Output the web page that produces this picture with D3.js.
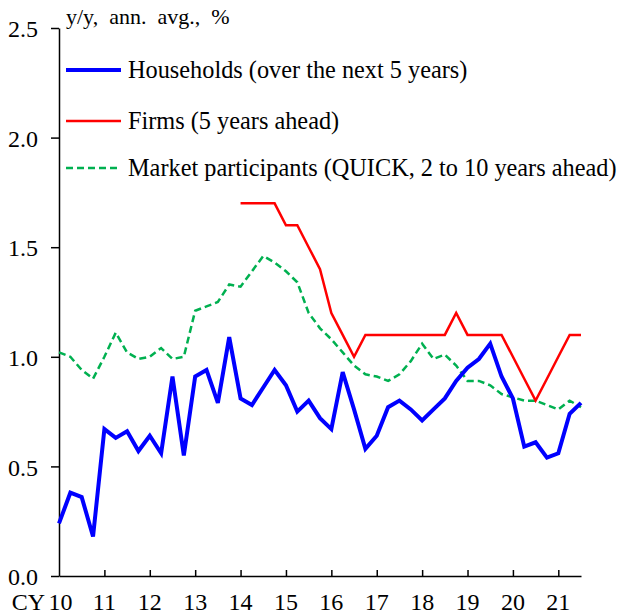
<!DOCTYPE html>
<html><head><meta charset="utf-8">
<script src="https://cdn.jsdelivr.net/npm/d3@7"></script>
<style>html,body{margin:0;padding:0;background:#fff;}</style></head>
<body>
<svg id="c" width="618" height="616"></svg>
<script>
// quarterly observations starting 2010 Q1
const startYear = 2010;
const households = [0.24,0.38,0.36,0.18,0.67,0.63,0.66,0.57,0.64,0.56,0.91,0.55,0.91,0.94,0.79,1.09,
  0.81,0.78,0.86,0.94,0.87,0.75,0.80,0.72,0.67,0.93,0.76,0.58,0.64,0.77,0.80,0.76,
  0.71,0.76,0.81,0.89,0.95,0.99,1.06,0.91,0.81,0.59,0.61,0.54,0.56,0.74,0.79];
const firms = [null,null,null,null,null,null,null,null,null,null,null,null,null,null,null,null,
  1.7,1.7,1.7,1.7,1.6,1.6,1.5,1.4,1.2,1.1,1.0,1.1,1.1,1.1,1.1,1.1,
  1.1,1.1,1.1,1.2,1.1,1.1,1.1,1.1,1.0,0.9,0.8,0.9,1.0,1.1,1.1];
const market = [1.02,1.00,0.94,0.90,1.00,1.11,1.02,0.99,1.00,1.04,0.99,1.00,1.21,1.23,1.25,1.33,
  1.32,1.39,1.46,1.43,1.39,1.34,1.20,1.13,1.08,1.02,0.96,0.92,0.91,0.89,0.92,0.98,
  1.06,0.99,1.01,0.96,0.89,0.89,0.87,0.83,0.815,0.80,0.80,0.78,0.76,0.80,0.77];
const yTicks = [0,0.5,1.0,1.5,2.0,2.5];
const yearLabels = ["10","11","12","13","14","15","16","17","18","19","20","21"];
const seriesNames = ["Households (over the next 5 years)","Firms (5 years ahead)","Market participants (QUICK, 2 to 10 years ahead)"];
const unitLabel = "y/y,  ann.  avg.,  %";

const FONT = "Liberation Serif";
const svg = d3.select("#c");
svg.append("rect").attr("width",618).attr("height",616).attr("fill","#fff");

const x = d3.scaleLinear().domain([2010, 2021.5]).range([59, 581]);
const y = d3.scaleLinear().domain([0, 2.5]).range([576, 28]);
const t = i => startYear + i/4;

// y axis
const ya = svg.append("g").attr("transform","translate(59,0)")
  .call(d3.axisLeft(y).tickValues(yTicks).tickFormat(d3.format(".1f")).tickSize(8).tickSizeOuter(0).tickPadding(13));
ya.select(".domain").attr("stroke","#000").attr("stroke-width",1.5);
ya.selectAll(".tick line").attr("stroke","#000").attr("stroke-width",1.5);
ya.selectAll(".tick text").attr("dy","0.36em").style("font-family",FONT).style("font-size","24px").attr("fill","#000");

// x axis
const yrs = d3.range(2011, 2022);
const xa = svg.append("g").attr("transform","translate(0,576)")
  .call(d3.axisBottom(x).tickValues(yrs).tickSize(-6).tickSizeOuter(0).tickFormat(""));
xa.select(".domain").attr("stroke","#000").attr("stroke-width",1.5);
xa.selectAll(".tick line").attr("stroke","#000").attr("stroke-width",1.5);

svg.selectAll(".xl").data(yearLabels).enter().append("text").attr("class","xl")
  .attr("x",(d,i)=> x(2010+i) + (i===0?1.5:0)).attr("y",610).attr("text-anchor","middle")
  .style("font-family",FONT).style("font-size","24px").text(d=>d);
svg.append("text").attr("x",45).attr("y",610).attr("text-anchor","end")
  .style("font-family",FONT).style("font-size","24px").text("CY");

// lines
const lineGen = d3.line().defined(d=>d!=null).x((d,i)=>x(t(i))).y(d=>y(d));
svg.append("path").datum(market).attr("d",lineGen).attr("fill","none")
  .attr("stroke","#00B050").attr("stroke-width",2.5).attr("stroke-dasharray","7,4");
svg.append("path").datum(firms).attr("d",lineGen).attr("fill","none")
  .attr("stroke","#FF0000").attr("stroke-width",2.5).attr("stroke-linejoin","miter");
svg.append("path").datum(households).attr("d",lineGen).attr("fill","none")
  .attr("stroke","#0000FF").attr("stroke-width",4).attr("stroke-linejoin","miter");

// unit label
svg.append("text").attr("x",66).attr("y",24).style("font-family",FONT).style("font-size","22px")
  .style("white-space","pre").text(unitLabel);

// legend
const leg = [
  {name:seriesNames[0], color:"#0000FF", w:4, dash:null, y:70},
  {name:seriesNames[1], color:"#FF0000", w:2.5, dash:null, y:121},
  {name:seriesNames[2], color:"#00B050", w:2.5, dash:"7,4", y:168}
];
leg.forEach(l=>{
  svg.append("line").attr("x1",66).attr("x2",121).attr("y1",l.y).attr("y2",l.y)
    .attr("stroke",l.color).attr("stroke-width",l.w).attr("stroke-dasharray",l.dash);
  svg.append("text").attr("x",128).attr("y",l.y+8).style("font-family",FONT).style("font-size","24.3px").text(l.name);
});
</script>
</body></html>
